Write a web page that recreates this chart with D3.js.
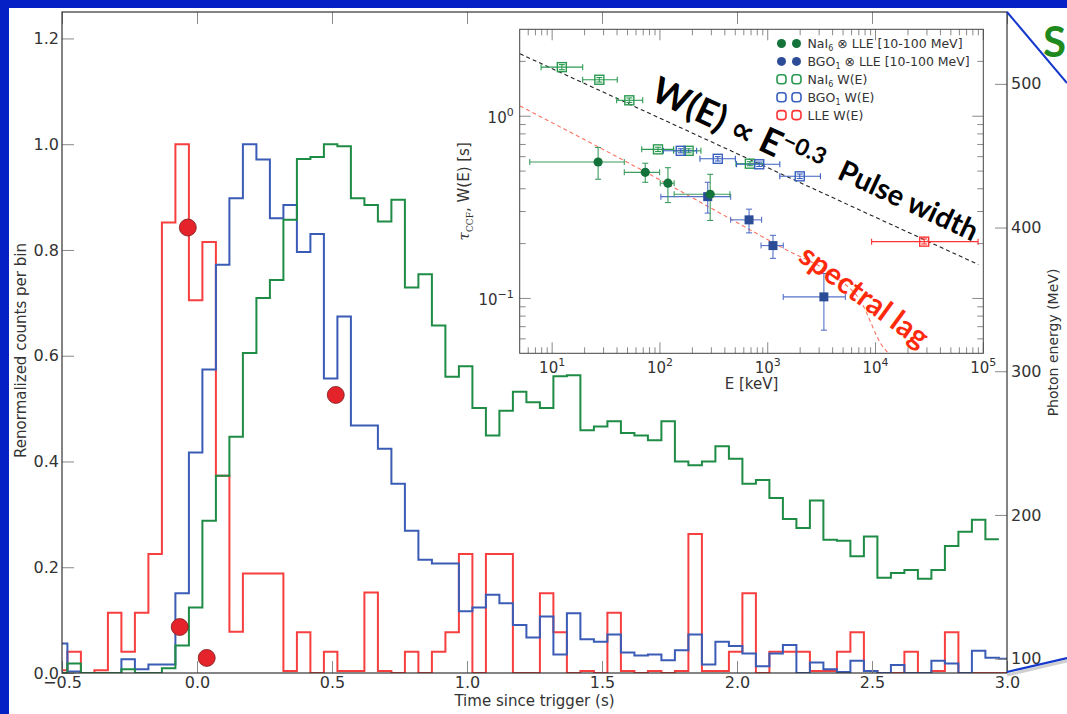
<!DOCTYPE html>
<html>
<head>
<meta charset="utf-8">
<script src="https://cdn.jsdelivr.net/npm/d3@7"></script>
<style>
  html, body { margin: 0; padding: 0; background: #ffffff; }
  svg { display: block; font-family: "DejaVu Sans", sans-serif; }
</style>
</head>
<body>
<svg id="chart" width="1067" height="714"></svg>
<script>
// ---------------- light curves (50 ms bins, first bin starts at -0.53 s) ----------------
const binStart = -0.53;
const binWidth = 0.05;

// LAT LLE (red)
const lleCounts = [0.005, 0.040, 0, 0.005, 0.114, 0.040, 0.114, 0.225, 0.852, 1.0,
  0.705, 0.815, 0.373, 0.078, 0.188, 0.188, 0.188, 0.004, 0.077, 0,
  0.040, 0.004, 0.004, 0.152, 0.004, 0, 0.040, 0, 0.040, 0.077,
  0.225, 0, 0.225, 0.225, 0, 0, 0.151, 0.077, 0, 0.004,
  0, 0.114, 0.004, 0, 0.004, 0, 0.004, 0.263, 0.004, 0.004,
  0.040, 0.151, 0, 0.040, 0.040, 0.040, 0.004, 0.004, 0.040, 0.077,
  0.004, 0, 0, 0.040, 0, 0.004, 0.077, 0, 0, 0, 0];

// GBM BGO 1 (blue)
const bgoCounts = [0.056, 0.003, 0, 0, 0, 0.026, 0.007, 0.016, 0.016, 0.151,
  0.417, 0.574, 0.772, 0.898, 1.0, 0.971, 0.860, 0.885, 0.796, 0.830,
  0.557, 0.674, 0.468, 0.468, 0.424, 0.358, 0.269, 0.214, 0.207, 0.207,
  0.117, 0.124, 0.148, 0.132, 0.091, 0.067, 0.107, 0.035, 0.113, 0.064,
  0.059, 0.073, 0.039, 0.033, 0.035, 0.024, 0.043, 0.073, 0.016, 0.059,
  0.051, 0.037, 0.013, 0.037, 0.053, 0, 0.020, 0.007, 0.002, 0.023,
  0.004, 0, 0.015, 0, 0, 0.023, 0.018, 0, 0.042, 0.029, 0.027];

// GBM NaI 6 (green)
const naiCounts = [0, 0.018, 0, 0, 0, 0.007, 0, 0, 0.009, 0.052,
  0.124, 0.288, 0.373, 0.447, 0.605, 0.709, 0.743, 0.857, 0.972, 0.976,
  1.0, 0.996, 0.898, 0.885, 0.854, 0.895, 0.729, 0.754, 0.657, 0.560,
  0.580, 0.501, 0.449, 0.496, 0.532, 0.512, 0.501, 0.561, 0.563, 0.459,
  0.466, 0.476, 0.454, 0.449, 0.440, 0.476, 0.400, 0.393, 0.400, 0.429,
  0.405, 0.358, 0.365, 0.331, 0.291, 0.274, 0.326, 0.252, 0.250, 0.221,
  0.258, 0.180, 0.189, 0.195, 0.178, 0.195, 0.240, 0.267, 0.290, 0.253];

// individual LLE photons: arrival time (s) and energy (MeV)
const photonTimes = [-0.064, -0.034, 0.036, 0.514];
const photonEnergies = [122, 400, 100.5, 283.5];

const timeTicks = [-0.5, 0.0, 0.5, 1.0, 1.5, 2.0, 2.5, 3.0];
const countTicks = [0.0, 0.2, 0.4, 0.6, 0.8, 1.0, 1.2];
const energyTicks = [100, 200, 300, 400, 500];

// ---------------- inset: lag and pulse width vs energy ----------------
// rows: [E, Elo, Ehi, value, valueLo, valueHi]   (E in keV, value in s)
const naiLag = [
  [26.7, 6.2, 46.7, 0.561, 0.451, 0.674],
  [73.1, 46.7, 99.3, 0.492, 0.434, 0.552],
  [118.6, 100.7, 135.5, 0.429, 0.336, 0.522],
  [292.5, 135.5, 446, 0.373, 0.268, 0.480]
];
const bgoLag = [
  [277.5, 102, 453, 0.362, 0.294, 0.434],
  [671, 453, 877, 0.270, 0.229, 0.309],
  [1119, 867, 1393, 0.195, 0.166, 0.222],
  [3319, 1393, 5250, 0.102, 0.067, 0.137]
];
const naiWidth = [
  [12.3, 7.9, 19.2, 1.86, 1.80, 1.92],
  [27.4, 19.2, 40.2, 1.586, 1.54, 1.63],
  [52, 39.7, 69.2, 1.223, 1.19, 1.26],
  [95.9, 67.8, 134, 0.658, 0.64, 0.676],
  [184.5, 134, 240, 0.646, 0.63, 0.663],
  [683, 507, 908, 0.549, 0.535, 0.563]
];
const bgoWidth = [
  [156, 107.6, 219, 0.646, 0.63, 0.663],
  [344, 235, 501, 0.584, 0.568, 0.60],
  [834, 514, 1294, 0.545, 0.53, 0.56],
  [1982, 1294, 3083, 0.468, 0.455, 0.482]
];
const lleWidth = [
  [28300, 9200, 89500, 0.205, 0.199, 0.212]
];
// reference curves drawn in the inset, [E (keV), value (s)]
const widthLaw = [[5.03, 2.20], [89900, 0.1535]];
const lagCurve = [[5.03, 1.138], [132, 0.409], [346, 0.298], [1385, 0.189],
  [4390, 0.1295], [7175, 0.098], [11720, 0.0542], [13000, 0.0505]];

const legendLabels = [
  {name: "NaI", sub: "6", rest: " \u2297 LLE [10-100 MeV]"},
  {name: "BGO", sub: "1", rest: " \u2297 LLE [10-100 MeV]"},
  {name: "NaI", sub: "6", rest: " W(E)"},
  {name: "BGO", sub: "1", rest: " W(E)"},
  {name: "LLE", sub: "", rest: " W(E)"}
];

// ---------------- colours ----------------
const C = {
  slide: "#0521c6",
  red: "#f73f3f",
  blue: "#3a5cb6",
  green: "#1f8c46",
  dot: "#e4232b",
  spine: "#333333",
  tick: "#8a8a8a",
  label: "#333333",
  gFill: "#14733a",
  gBar: "#3d9c5e",
  bFill: "#2c4c98",
  bBar: "#5671c8",
  gOpen: "#2a9a50",
  bOpen: "#3a5fc0",
  rOpen: "#ff3535",
  lagLine: "#f87362"
};
const SANS = "'DejaVu Sans', sans-serif";
const BOLD = "Lato, 'Open Sans', sans-serif";

const svg = d3.select("#chart");

// slide background frame
svg.append("rect").attr("x", 0).attr("y", 0).attr("width", 1067).attr("height", 714).attr("fill", "#ffffff");
svg.append("rect").attr("x", 0).attr("y", 0).attr("width", 1067).attr("height", 8).attr("fill", C.slide);
svg.append("rect").attr("x", 0).attr("y", 0).attr("width", 9).attr("height", 714).attr("fill", C.slide);

// ---------------- main panel ----------------
const M = {left: 62, right: 1007, top: 12, bottom: 673};
const x = d3.scaleLinear().domain([-0.5, 3.0]).range([M.left, M.right]);
const y = d3.scaleLinear().domain([0, 1.25]).range([M.bottom, M.top]);
const yE = d3.scaleLinear().domain([90, 550]).range([M.bottom, M.top]);

svg.append("defs").append("clipPath").attr("id", "plotClip")
  .append("rect").attr("x", M.left).attr("y", M.top)
  .attr("width", M.right - M.left).attr("height", M.bottom - M.top);

function stepPoints(counts) {
  const pts = counts.map((v, i) => [binStart + i * binWidth, v]);
  pts.push([binStart + counts.length * binWidth, counts[counts.length - 1]]);
  return pts;
}
const stepLine = d3.line().x(d => x(d[0])).y(d => y(d[1])).curve(d3.curveStepAfter);

const hist = svg.append("g").attr("clip-path", "url(#plotClip)");
[[lleCounts, C.red], [bgoCounts, C.blue], [naiCounts, C.green]].forEach(([counts, col]) => {
  hist.append("path").attr("d", stepLine(stepPoints(counts)))
    .attr("fill", "none").attr("stroke", col).attr("stroke-width", 2)
    .attr("stroke-linejoin", "miter");
});

// photon markers on the energy axis
svg.append("g").selectAll("circle").data(photonTimes).join("circle")
  .attr("cx", d => x(d)).attr("cy", (d, i) => yE(photonEnergies[i])).attr("r", 8.5)
  .attr("fill", C.dot).attr("stroke", "#7a1e1e").attr("stroke-width", 0.8);

// axes
function styleAxis(g, size) {
  g.select(".domain").remove();
  g.selectAll(".tick line").attr("stroke", C.tick).attr("stroke-width", 1);
  g.selectAll(".tick text").attr("fill", C.label).style("font-size", size + "px")
    .style("font-family", SANS);
}
const fmt1 = d3.format(".1f");
svg.append("g").attr("transform", `translate(0,${M.bottom})`)
  .call(d3.axisBottom(x).tickValues(timeTicks).tickSize(-12).tickPadding(4).tickFormat(fmt1))
  .call(g => styleAxis(g, 16));
svg.append("g").attr("transform", `translate(0,${M.top})`)
  .call(d3.axisTop(x).tickValues(timeTicks).tickSize(-12).tickFormat(""))
  .call(g => styleAxis(g, 16));
svg.append("g").attr("transform", `translate(${M.left},0)`)
  .call(d3.axisLeft(y).tickValues(countTicks).tickSize(-12).tickPadding(3).tickFormat(fmt1))
  .call(g => styleAxis(g, 16));
svg.append("g").attr("transform", `translate(${M.right},0)`)
  .call(d3.axisRight(yE).tickValues(energyTicks).tickSize(-12).tickPadding(4))
  .call(g => styleAxis(g, 16));

svg.append("rect").attr("x", M.left).attr("y", M.top)
  .attr("width", M.right - M.left).attr("height", M.bottom - M.top)
  .attr("fill", "none").attr("stroke", C.spine).attr("stroke-width", 1.2);

svg.append("text").attr("x", (M.left + M.right) / 2).attr("y", 706)
  .attr("text-anchor", "middle").attr("fill", C.label).style("font-size", "15px").style("font-family", SANS)
  .text("Time since trigger (s)");
svg.append("text").attr("transform", `translate(26,${(M.top + M.bottom) / 2 + 8}) rotate(-90)`)
  .attr("text-anchor", "middle").attr("fill", C.label).style("font-size", "15px").style("font-family", SANS)
  .text("Renormalized counts per bin");
svg.append("text").attr("transform", `translate(1058,${(M.top + M.bottom) / 2}) rotate(-90)`)
  .attr("text-anchor", "middle").attr("fill", C.label).style("font-size", "14px").style("font-family", SANS)
  .text("Photon energy (MeV)");

// ---------------- inset panel ----------------
const I = {left: 519.7, right: 983.3, top: 29.3, bottom: 353.3};
const ix = d3.scaleLog().domain([5, 1e5]).range([I.left, I.right]);
const iy = d3.scaleLog().domain([0.05, 3]).range([I.bottom, I.top]);

svg.append("rect").attr("x", I.left).attr("y", I.top)
  .attr("width", I.right - I.left).attr("height", I.bottom - I.top).attr("fill", "#ffffff");

const inset = svg.append("g");
const xMajor = [10, 100, 1000, 10000, 100000];
const yMajor = [0.1, 1];
const xMinor = [];
[1, 10, 100, 1000, 10000].forEach(dec => { for (let k = 2; k <= 9; k++) { const v = dec * k; if (v > 5 && v < 1e5 && v !== 10) xMinor.push(v); } });
const yMinor = [0.06, 0.07, 0.08, 0.09, 0.2, 0.3, 0.4, 0.5, 0.6, 0.7, 0.8, 0.9, 2];

const tickG = inset.append("g").attr("stroke", C.tick).attr("stroke-width", 1);
function vTicks(vals, len) {
  vals.forEach(v => {
    tickG.append("line").attr("x1", ix(v)).attr("x2", ix(v)).attr("y1", I.bottom).attr("y2", I.bottom - len);
    tickG.append("line").attr("x1", ix(v)).attr("x2", ix(v)).attr("y1", I.top).attr("y2", I.top + len);
  });
}
function hTicks(vals, len) {
  vals.forEach(v => {
    tickG.append("line").attr("y1", iy(v)).attr("y2", iy(v)).attr("x1", I.left).attr("x2", I.left + len);
    tickG.append("line").attr("y1", iy(v)).attr("y2", iy(v)).attr("x1", I.right).attr("x2", I.right - len);
  });
}
vTicks(xMajor, 11); vTicks(xMinor, 6);
hTicks(yMajor, 11); hTicks(yMinor, 6);

// tick labels as powers of ten
xMajor.forEach(v => {
  const t = inset.append("text").attr("x", ix(v)).attr("y", 373).attr("text-anchor", "middle")
    .attr("fill", C.label).style("font-size", "15px").style("font-family", SANS);
  t.append("tspan").text("10");
  t.append("tspan").attr("dy", -7).style("font-size", "11px").text(String(Math.round(Math.log10(v))));
});
yMajor.forEach(v => {
  const t = inset.append("text").attr("x", I.left - 6).attr("y", iy(v) + 7).attr("text-anchor", "end")
    .attr("fill", C.label).style("font-size", "15px").style("font-family", SANS);
  t.append("tspan").text("10");
  t.append("tspan").attr("dy", -7).style("font-size", "11px")
    .text(String(Math.round(Math.log10(v))).replace("-", "\u2212"));
});

inset.append("text").attr("x", (I.left + I.right) / 2).attr("y", 389).attr("text-anchor", "middle")
  .attr("fill", C.label).style("font-size", "15px").style("font-family", SANS).text("E [keV]");
const ylab = inset.append("text").attr("transform", `translate(469,${(I.top + I.bottom) / 2}) rotate(-90)`)
  .attr("text-anchor", "middle").attr("fill", C.label).style("font-size", "15px").style("font-family", SANS);
ylab.append("tspan").style("font-family", "'DejaVu Serif', serif").style("font-style", "italic").text("\u03c4");
ylab.append("tspan").attr("dy", 4).style("font-family", "'DejaVu Serif', serif").style("font-size", "9px").text("CCF");
ylab.append("tspan").attr("dy", -4).text(", W(E) [s]");

// reference curves
const insetClip = svg.select("defs").append("clipPath").attr("id", "insetClip");
insetClip.append("rect").attr("x", I.left).attr("y", I.top).attr("width", I.right - I.left).attr("height", I.bottom - I.top);
const curves = inset.append("g").attr("clip-path", "url(#insetClip)");
const logLine = d3.line().x(d => ix(d[0])).y(d => iy(d[1]));
curves.append("path").attr("d", logLine(widthLaw)).attr("fill", "none")
  .attr("stroke", "#222").attr("stroke-width", 1.1).attr("stroke-dasharray", "4,3");
curves.append("path").attr("d", logLine.curve(d3.curveMonotoneX)(lagCurve)).attr("fill", "none")
  .attr("stroke", C.lagLine).attr("stroke-width", 1.1).attr("stroke-dasharray", "4,3");

// error bars and markers
function errorBars(rows, col) {
  const g = inset.append("g").attr("stroke", col).attr("stroke-width", 1.1).attr("fill", "none");
  rows.forEach(r => {
    const cx = ix(r[0]), cy = iy(r[3]);
    g.append("line").attr("x1", ix(r[1])).attr("x2", ix(r[2])).attr("y1", cy).attr("y2", cy);
    g.append("line").attr("x1", cx).attr("x2", cx).attr("y1", iy(r[4])).attr("y2", iy(r[5]));
    g.append("line").attr("x1", ix(r[1])).attr("x2", ix(r[1])).attr("y1", cy - 3).attr("y2", cy + 3);
    g.append("line").attr("x1", ix(r[2])).attr("x2", ix(r[2])).attr("y1", cy - 3).attr("y2", cy + 3);
    g.append("line").attr("x1", cx - 3).attr("x2", cx + 3).attr("y1", iy(r[4])).attr("y2", iy(r[4]));
    g.append("line").attr("x1", cx - 3).attr("x2", cx + 3).attr("y1", iy(r[5])).attr("y2", iy(r[5]));
  });
}
errorBars(naiWidth, C.gOpen);
errorBars(bgoWidth, C.bOpen);
errorBars(lleWidth, C.rOpen);
errorBars(bgoLag, C.bBar);
errorBars(naiLag, C.gBar);

function openSquares(rows, col) {
  inset.append("g").selectAll("rect").data(rows).join("rect")
    .attr("x", d => ix(d[0]) - 4.5).attr("y", d => iy(d[3]) - 4.5)
    .attr("width", 9).attr("height", 9).attr("fill", "none")
    .attr("stroke", col).attr("stroke-width", 1.4);
}
openSquares(naiWidth, C.gOpen);
openSquares(bgoWidth, C.bOpen);
openSquares(lleWidth, C.rOpen);
inset.append("g").selectAll("rect").data(bgoLag).join("rect")
  .attr("x", d => ix(d[0]) - 4.5).attr("y", d => iy(d[3]) - 4.5)
  .attr("width", 9).attr("height", 9).attr("fill", C.bFill);
inset.append("g").selectAll("circle").data(naiLag).join("circle")
  .attr("cx", d => ix(d[0])).attr("cy", d => iy(d[3])).attr("r", 4.6).attr("fill", C.gFill);

inset.append("rect").attr("x", I.left).attr("y", I.top)
  .attr("width", I.right - I.left).attr("height", I.bottom - I.top)
  .attr("fill", "none").attr("stroke", "#444").attr("stroke-width", 1);

// legend
const legendStyles = [
  {shape: "circle", fill: C.gFill, stroke: "none"},
  {shape: "circle", fill: C.bFill, stroke: "none"},
  {shape: "box", fill: "none", stroke: C.gOpen},
  {shape: "box", fill: "none", stroke: C.bOpen},
  {shape: "box", fill: "none", stroke: C.rOpen}
];
const legend = inset.append("g");
legendLabels.forEach((lab, i) => {
  const cy = 43.5 + i * 17.9;
  [781.5, 796.5].forEach(mx => {
    const s = legendStyles[i];
    if (s.shape === "circle") {
      legend.append("circle").attr("cx", mx).attr("cy", cy).attr("r", 4.5).attr("fill", s.fill);
    } else {
      legend.append("rect").attr("x", mx - 4.5).attr("y", cy - 4.5).attr("width", 9).attr("height", 9)
        .attr("rx", 3).attr("fill", "none").attr("stroke", s.stroke).attr("stroke-width", 1.6);
    }
  });
  const t = legend.append("text").attr("x", 807.5).attr("y", cy + 4.5).attr("fill", C.label)
    .style("font-size", "12.5px").style("font-family", SANS);
  t.append("tspan").text(lab.name);
  if (lab.sub) t.append("tspan").attr("dy", 3).style("font-size", "8px").text(lab.sub);
  t.append("tspan").attr("dy", lab.sub ? -3 : 0).text(lab.rest);
});

// annotations
const law = svg.append("text").attr("transform", "translate(649,99) rotate(25)")
  .attr("fill", "#000").style("font-family", BOLD).style("font-weight", 700).style("font-size", "36px");
law.append("tspan").text("W(E) ");
law.append("tspan").style("font-family", SANS).style("font-size", "32px").text("\u221d");
law.append("tspan").text(" E");
law.append("tspan").attr("dy", -13).style("font-size", "23px").text("\u22120.3");
svg.append("text").attr("transform", "translate(836,178) rotate(25)")
  .attr("fill", "#000").style("font-family", BOLD).style("font-weight", 700).style("font-size", "29px")
  .text("Pulse width");
svg.append("text").attr("transform", "translate(797,260) rotate(36)")
  .attr("fill", "#ff2a0c").style("font-family", BOLD).style("font-weight", 700).style("font-size", "30px")
  .text("spectral lag");

// slide decoration at the right edge
svg.append("line").attr("x1", 1007).attr("y1", 12).attr("x2", 1067).attr("y2", 83)
  .attr("stroke", "#1438cc").attr("stroke-width", 2);
svg.append("line").attr("x1", 1007).attr("y1", 675).attr("x2", 1067).attr("y2", 661)
  .attr("stroke", "#cfcfcf").attr("stroke-width", 3);
svg.append("line").attr("x1", 1007).attr("y1", 672).attr("x2", 1067).attr("y2", 658)
  .attr("stroke", "#1438cc").attr("stroke-width", 2.2);
svg.append("text").attr("x", 1043).attr("y", 57).attr("fill", "#1e8a1e")
  .style("font-family", BOLD).style("font-weight", 700).style("font-size", "42px")
  .text("S");
</script>
</body>
</html>
